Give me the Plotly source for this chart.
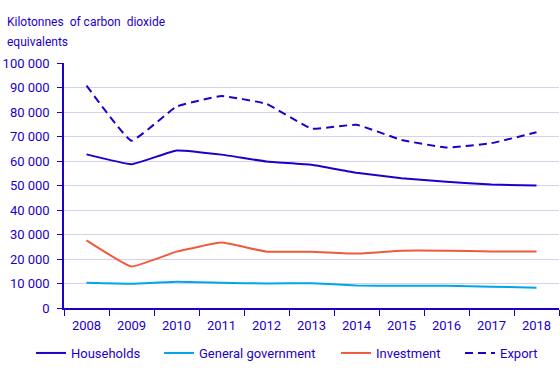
import plotly.graph_objects as go

years = ["2008", "2009", "2010", "2011", "2012", "2013", "2014", "2015", "2016", "2017", "2018"]
households = [62700, 58700, 64300, 62600, 59800, 58500, 55200, 53000, 51500, 50400, 50000]
general_government = [10300, 9900, 10700, 10300, 10000, 10100, 9200, 9100, 9100, 8700, 8300]
investment = [27600, 16900, 23000, 26700, 23000, 23000, 22200, 23400, 23400, 23100, 23100]
export = [90800, 68300, 82200, 86500, 83300, 73200, 74800, 68600, 65500, 67300, 71700]

DARK = "#1e00c8"
CYAN = "#00a6e6"
ORANGE = "#f05a3c"
GRID = "#d6d2ee"
FONT = "Roboto"

series = [
    ("Households", households, DARK, "solid", "legend"),
    ("General government", general_government, CYAN, "solid", "legend2"),
    ("Investment", investment, ORANGE, "solid", "legend3"),
    ("Export", export, DARK, "8px,5px", "legend4"),
]

fig = go.Figure()
for name, vals, col, dash, leg in series:
    fig.add_trace(go.Scatter(
        x=years, y=vals, name=name, mode="lines",
        line=dict(color=col, width=2, dash=dash, shape="spline", smoothing=0.3),
        legend=leg,
    ))

W, H = 560, 381
L, R, T, B = 64, 1, 63, 73
PW, PH = W - L - R, H - T - B


def px_x(px):
    return (px - L) / PW


def px_y(py):
    return (H - B - py) / PH


leg_x = [31, 159, 336, 460]
legend_common = dict(orientation="h", xref="container", yref="container",
                     xanchor="left", yanchor="middle", y=1 - 353 / H,
                     font=dict(family=FONT, size=13, color=DARK),
                     bgcolor="rgba(0,0,0,0)", borderwidth=0, itemwidth=30)

fig.update_layout(
    width=W, height=H,
    margin=dict(l=L, r=R, t=T, b=B, autoexpand=False),
    plot_bgcolor="white", paper_bgcolor="white",
    separators=", ",
    showlegend=True,
    font=dict(family=FONT, size=13, color=DARK),
    legend=dict(x=leg_x[0] / W, **legend_common),
    legend2=dict(x=leg_x[1] / W, **legend_common),
    legend3=dict(x=leg_x[2] / W, **legend_common),
    legend4=dict(x=leg_x[3] / W, **legend_common),
    xaxis=dict(
        type="category", range=[-0.5, 10.5],
        showline=True, linecolor=DARK, linewidth=1.5,
        ticks="outside", tickson="boundaries", ticklen=6, tickcolor=DARK, tickwidth=1,
        ticklabelstandoff=5,
        showgrid=False, tickfont=dict(family=FONT, size=13, color=DARK),
    ),
    yaxis=dict(
        range=[0, 100000], dtick=10000, tickformat=",d",
        showline=True, linecolor=DARK, linewidth=1.5,
        ticks="outside", ticklen=5, tickcolor=DARK,
        ticklabelstandoff=5,
        gridcolor=GRID, gridwidth=1, zeroline=False,
        tickfont=dict(family=FONT, size=13, color=DARK),
    ),
    annotations=[
        dict(text="Kilotonnes\u00a0 of carbon\u00a0 dioxide", xref="paper", yref="paper",
             x=px_x(5), y=px_y(22), xanchor="left", yanchor="middle", showarrow=False,
             font=dict(family=FONT, size=12, color=DARK)),
        dict(text="equivalents", xref="paper", yref="paper",
             x=px_x(5), y=px_y(42), xanchor="left", yanchor="middle", showarrow=False,
             font=dict(family=FONT, size=12, color=DARK)),
    ],
)

fig.write_html("out.html",
               config={"displayModeBar": False},
               post_script="document.body.style.margin='0px';")
